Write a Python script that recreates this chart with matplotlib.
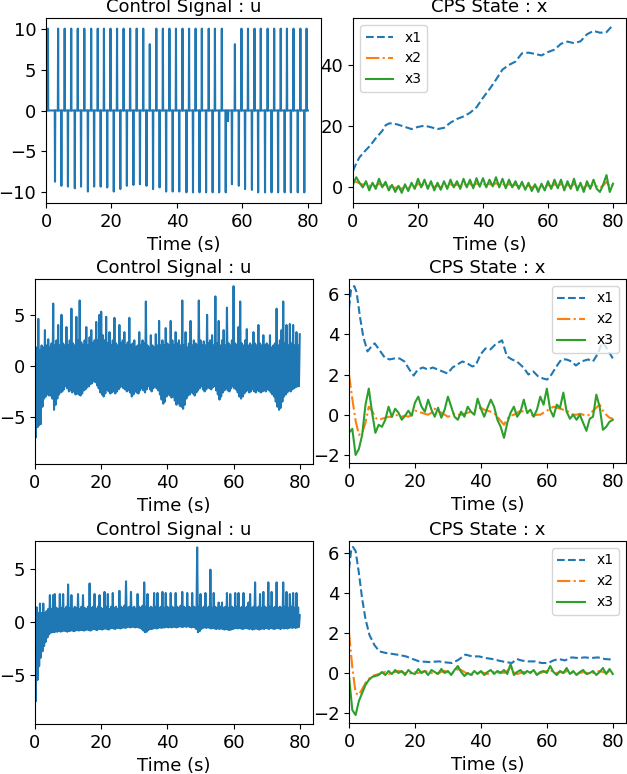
import numpy as np
import matplotlib
matplotlib.use('Agg')
import matplotlib.pyplot as plt

plt.rcParams['font.size'] = 13

# --- row 1: bang-bang control pulses (time, peak) ---
pos_t = [0.6, 3.7, 5.7, 7.7, 9.7, 11.7, 13.8, 15.8, 17.7, 19.7,
         21.7, 23.7, 25.7, 27.7, 29.7, 31.7, 33.7, 35.7, 37.7, 39.7,
         41.7, 43.7, 45.7, 47.6, 49.7, 51.6, 53.7, 57.7, 59.7, 61.7,
         63.7, 65.6, 67.7, 69.7, 71.7, 73.6, 75.6, 77.7, 79.6]
pos_v = [10, 10, 10, 10, 10, 10, 10, 10, 10, 10,
         10, 10, 10, 10, 10, 8.1, 10, 10, 10, 10,
         10, 10, 10, 10, 10, 10, 10, 8.1, 10, 10,
         10, 10, 10, 10, 10, 10, 10, 10, 10]
neg_t = [2.75, 4.7, 6.7, 8.8, 10.7, 12.8, 14.7, 16.7, 18.7, 20.7,
         22.7, 24.7, 26.7, 28.7, 30.7, 32.7, 34.7, 36.7, 38.7, 40.7,
         42.9, 44.9, 46.9, 48.9, 50.9, 52.9, 54.9, 55.6, 56.8, 58.9,
         60.8, 62.9, 64.8, 66.9, 68.9, 70.9, 72.9, 74.8, 76.9, 78.9]
neg_v = [-8.7, -9.2, -9.3, -9.5, -9.3, -9.9, -9.3, -9.3, -9.4, -9.9,
         -9.6, -9.2, -9.1, -9.0, -9.2, -9.6, -9.4, -9.9, -9.9, -9.9,
         -10, -10, -10, -10, -10, -10, -10, -1.3, -9.0, -9.2,
         -9.6, -9.7, -10, -10, -10, -10, -10, -10, -10, -10]

# row 1 states
s1_t = [0, 1, 2, 3, 4, 5, 6, 7, 8, 9, 10, 11, 12, 14, 16, 18, 20, 22, 24, 26,
        28, 30, 32, 34, 36, 38, 40, 42, 44, 46, 48, 50, 52, 54, 56, 58, 60, 62,
        64, 66, 68, 70, 72, 74, 76, 78, 80]
s1_x1 = [5.4, 7.8, 9.8, 11.0, 12.2, 13.3, 14.6, 16.0, 17.2, 18.4, 20.2, 20.8,
         20.9, 20.4, 19.7, 19.0, 19.7, 20.1, 19.6, 19.0, 19.4, 21.1, 22.3, 23.1,
         24.3, 26.1, 29.2, 32.0, 35.1, 38.4, 39.9, 41.0, 43.7, 43.9, 43.5, 43.0,
         44.1, 44.9, 46.8, 47.5, 47.0, 47.6, 49.9, 51.0, 50.4, 50.6, 52.9]
s1_x2 = [2.0, 1.8, 1.3, 0.9, 1.0, 0.5, 0.6, 0.4, 1.2, 0.6,
         0.8, 0.2, 0.4, -0.2, 0.2, -0.5, 0.2, -0.3, 0.5, 0.1,
         1.2, 0.6, 1.1, 0.4, 0.9, 0.1, 0.6, 0.0, 0.8, 0.2,
         1.0, 0.5, 0.9, 0.3, 1.2, 0.6, 1.1, 0.5, 1.3, 0.7,
         1.3, 0.6, 1.1, 0.7, 1.4, 0.7, 1.2, 0.5, 1.1, 0.5,
         0.9, 0.3, 0.8, 0.1, 0.6, -0.1, 0.4, -0.3, 0.4, -0.1,
         0.8, 0.3, 1.0, 0.4, 1.0, 0.1, 0.8, 0.2, 1.1, 0.1,
         0.6, -0.2, 0.7, 0.2, 1.0, 0.3, -0.2, 0.6, 1.8, 0.2,
         0.8]
s1_x3 = [1.0, 3.3, 1.5, 0.0, 2.0, -1.0, 1.5, -0.5, 2.8, 0.0,
         1.8, -1.0, 0.8, -1.5, 0.5, -1.8, 1.0, -1.2, 1.5, -0.5,
         2.8, 0.0, 2.5, -0.5, 2.0, -1.0, 1.5, -0.8, 2.0, -0.5,
         2.5, 0.0, 2.0, -0.5, 2.8, 0.0, 2.5, -0.3, 3.0, 0.2,
         3.0, 0.0, 2.5, 0.3, 3.3, 0.0, 2.8, -0.3, 2.5, 0.0,
         2.0, -0.5, 1.8, -0.8, 1.5, -1.2, 1.0, -1.5, 1.2, -1.0,
         2.0, -0.5, 2.5, -0.3, 2.5, -1.0, 2.0, -0.5, 2.8, -1.0,
         1.5, -1.5, 2.0, -0.5, 2.5, -0.5, -1.5, 1.0, 4.0, -1.5,
         1.2]

# --- row 2: noisy control, upper samples every 0.5 s, lower samples in between ---
u2_up = [1.2, 1.8, 4.6, 1.5, 2.0, 1.8, 3.5, 2.0, 2.6, 1.8,
         2.2, 6.1, 2.0, 2.5, 4.0, 2.0, 5.0, 2.2, 2.0, 3.8,
         2.0, 2.5, 5.6, 2.2, 2.0, 4.8, 2.5, 6.4, 2.3, 2.0,
         2.5, 3.8, 2.0, 2.8, 3.5, 2.2, 2.5, 4.3, 2.5, 5.0,
         5.3, 3.0, 2.5, 4.8, 2.2, 3.3, 2.0, 2.5, 4.7, 2.2,
         2.0, 4.0, 2.2, 2.5, 3.3, 2.0, 2.3, 4.7, 2.0, 2.2,
         2.5, 1.8, 2.0, 3.3, 2.0, 2.5, 2.2, 6.3, 2.0, 1.8,
         3.0, 2.0, 1.8, 3.1, 2.0, 4.4, 2.0, 2.5, 2.0, 3.7,
         2.2, 2.0, 4.4, 2.5, 2.0, 3.3, 2.2, 2.5, 2.0, 6.4,
         2.0, 3.3, 1.8, 2.2, 4.4, 2.0, 2.5, 2.2, 2.0, 6.4,
         2.5, 2.0, 2.4, 2.0, 5.0, 2.2, 2.5, 3.0, 2.0, 6.8,
         2.2, 4.4, 2.0, 2.5, 3.5, 2.0, 5.7, 2.2, 2.0, 2.5,
         7.8, 2.2, 2.0, 3.8, 6.3, 2.2, 2.0, 2.5, 3.6, 2.0,
         2.2, 2.0, 3.3, 2.2, 2.0, 4.0, 2.2, 2.0, 3.0, 2.0,
         2.2, 2.0, 3.0, 1.8, 2.0, 2.2, 5.6, 2.0, 2.5, 3.5,
         6.3, 2.2, 4.0, 2.0, 4.1, 2.2, 4.0, 2.0, 3.3, 2.0,
         3.1]
u2_lo = [-7.0, -6.0, -5.8, -5.7, -4.0, -3.2, -3.0, -2.8, -2.9, -2.9,
         -3.2, -4.3, -3.8, -3.2, -2.8, -2.6, -2.5, -2.3, -2.0, -2.2,
         -2.5, -2.4, -2.6, -2.5, -2.8, -2.7, -2.8, -2.9, -2.7, -2.4,
         -2.3, -2.1, -2.0, -1.8, -1.7, -1.5, -1.6, -1.9, -2.2, -2.6,
         -2.8, -3.0, -2.7, -2.3, -2.5, -2.7, -2.6, -2.5, -2.7, -2.5,
         -2.3, -2.1, -2.0, -2.2, -2.3, -2.5, -2.4, -2.6, -3.0, -2.8,
         -2.5, -2.6, -2.7, -2.4, -2.2, -2.4, -2.6, -2.3, -2.0, -2.3,
         -2.5, -2.2, -2.0, -2.2, -2.4, -2.8, -3.3, -3.7, -3.5, -3.0,
         -2.8, -2.9, -3.1, -3.0, -3.4, -3.8, -3.6, -3.9, -4.0, -4.2,
         -3.8, -3.2, -2.9, -2.8, -2.6, -2.7, -2.9, -2.6, -2.4, -2.2,
         -2.0, -2.3, -2.5, -2.3, -2.1, -2.2, -2.3, -2.1, -2.0, -2.4,
         -2.8, -3.3, -3.0, -2.6, -2.4, -2.2, -2.4, -2.5, -2.2, -2.0,
         -2.2, -2.3, -2.6, -3.0, -3.2, -3.0, -2.7, -2.5, -2.4, -2.6,
         -2.5, -2.3, -2.5, -2.6, -2.4, -2.5, -2.6, -2.5, -2.4, -2.5,
         -2.3, -2.4, -2.6, -2.8, -3.0, -3.5, -4.0, -4.3, -4.1, -3.5,
         -3.0, -2.8, -2.6, -2.4, -2.5, -2.3, -2.2, -2.1, -2.0, -2.0]

s2_t = [0, 0.6, 1.6, 2.3, 3.3, 4.3, 5.6, 6.6, 7.8, 9.3, 10.8, 12.3, 13.8, 15.3,
        16.8, 18.3, 19.6, 20.9, 22.4, 23.9, 25.4, 26.9, 28.4, 29.9, 31.4, 32.9,
        34.4, 35.9, 37.4, 38.4, 39.9, 41.4, 42.9, 44.4, 46.4, 47.9, 49.4, 50.9,
        52.9, 54.4, 55.9, 57.4, 58.9, 60.1, 61.4, 62.9, 64.4, 65.9, 67.5, 68.8,
        70.5, 72.5, 74.0, 75.5, 76.8, 78.0, 80.0]
s2_x1 = [5.3, 6.2, 6.4, 6.1, 4.9, 3.9, 3.15, 3.35, 3.55, 3.2, 2.85, 2.75, 2.8,
         2.8, 2.65, 2.25, 1.95, 2.25, 2.35, 2.25, 2.35, 2.25, 2.15, 2.05, 2.35,
         2.5, 2.65, 2.55, 2.4, 2.45, 3.0, 3.3, 3.25, 3.5, 3.7, 2.9, 2.75, 2.65,
         2.35, 2.0, 2.15, 1.9, 1.8, 1.75, 2.0, 2.4, 2.75, 2.75, 2.65, 2.45, 2.65,
         2.75, 2.65, 3.05, 3.6, 3.35, 2.8]
s2_x2 = [2.0, 0.8, -0.3, -1.0, -0.9, -0.4, 0.4, 0.2, -0.15, -0.25,
         -0.2, -0.15, -0.1, -0.1, 0.0, -0.05, -0.1, -0.05, -0.1, 0.0,
         0.2, 0.15, 0.1, 0.05, 0.0, 0.1, 0.3, 0.15, 0.1, 0.0,
         -0.1, -0.05, 0.05, 0.0, 0.0, 0.05, 0.1, 0.15, 0.2, 0.3,
         0.35, 0.25, 0.2, 0.15, 0.1, -0.1, -0.3, -0.5, -0.2, -0.05,
         0.0, 0.1, 0.2, 0.15, 0.1, 0.0, -0.05, 0.0, 0.0, 0.1,
         0.2, 0.3, 0.4, 0.35, 0.3, 0.25, 0.2, 0.1, 0.0, 0.0,
         0.05, 0.0, -0.05, 0.0, 0.2, 0.35, 0.5, 0.2, 0.0, -0.15,
         -0.2]
s2_x3 = [-0.9, -0.7, -2.0, -1.7, -1.0, 0.5, 1.3, 0.1, -0.9, -0.5,
         -0.6, -0.25, 0.4, -0.1, 0.3, 0.1, -0.25, -0.05, 0.2, -0.05,
         0.6, 0.9, 0.4, 0.15, 0.75, 0.25, -0.1, 0.35, -0.15, 0.25,
         0.9, 0.4, -0.1, -0.25, 0.15, -0.1, 0.4, 0.15, 0.0, 0.8,
         0.3, -0.1, 0.35, 0.75, 0.4, -0.25, -0.6, -1.15, -0.4, 0.1,
         0.4, -0.1, 0.15, 0.75, 0.1, 0.25, -0.1, 0.25, 0.9, 0.5,
         1.3, 0.25, -0.1, 0.5, 0.35, 1.1, 0.15, -0.2, 0.0, -0.25,
         0.0, -0.4, -0.8, -0.2, -0.1, 1.0, 0.4, -0.75, -0.6, -0.35,
         -0.25]

# --- row 3 ---
u3_up = [0.5, 1.35, 0.8, 1.7, 0.8, 1.7, 0.8, 1.0, 1.2, 2.5,
         1.2, 2.5, 2.6, 1.3, 1.2, 2.6, 1.3, 2.6, 1.2, 1.4,
         3.5, 1.3, 2.5, 1.2, 1.4, 1.3, 2.6, 1.2, 1.4, 2.5,
         1.3, 1.2, 1.4, 3.6, 1.3, 1.4, 2.6, 1.2, 1.4, 2.5,
         1.3, 1.2, 2.8, 1.4, 2.6, 1.2, 1.4, 2.7, 1.3, 1.4,
         1.2, 2.9, 1.4, 1.3, 1.5, 3.8, 1.3, 1.4, 2.8, 1.3,
         1.4, 1.2, 2.6, 1.4, 1.3, 1.5, 3.7, 1.4, 2.6, 1.3,
         1.4, 1.3, 2.7, 1.4, 2.7, 1.3, 1.4, 2.8, 1.3, 2.7,
         1.4, 1.3, 2.7, 1.4, 1.3, 2.7, 1.4, 1.3, 1.5, 2.8,
         1.4, 1.3, 2.7, 1.4, 1.3, 2.7, 1.4, 1.3, 7.0, 1.4,
         2.6, 1.3, 1.4, 2.7, 1.3, 1.4, 4.9, 1.3, 2.7, 1.4,
         1.3, 1.8, 1.4, 1.8, 1.3, 1.4, 2.7, 1.3, 2.6, 1.4,
         1.3, 2.7, 1.4, 2.7, 1.3, 1.4, 2.7, 1.3, 1.4, 1.8,
         2.6, 1.3, 1.4, 3.7, 1.3, 1.4, 2.6, 1.3, 2.8, 1.4,
         1.3, 3.7, 1.4, 2.8, 1.3, 1.4, 3.7, 1.3, 1.4, 1.3,
         3.7, 1.4, 2.8, 1.3, 2.6, 1.4, 2.7, 1.3, 2.7, 1.35,
         0.6]
u3_lo = [-7.5, -5.5, -4.2, -3.4, -2.8, -2.3, -1.9, -1.5, -1.2, -1.05,
         -1.0, -1.0, -0.95, -0.95, -0.9, -0.95, -0.9, -0.85, -0.9, -0.95,
         -0.9, -0.85, -0.85, -0.9, -0.85, -0.8, -0.85, -0.8, -0.8, -0.85,
         -0.8, -0.75, -0.8, -0.85, -0.75, -0.7, -0.75, -0.8, -0.7, -0.7,
         -0.75, -0.7, -0.65, -0.7, -0.75, -0.65, -0.6, -0.65, -0.7, -0.6,
         -0.6, -0.65, -0.6, -0.55, -0.6, -0.55, -0.5, -0.55, -0.5, -0.5,
         -0.55, -0.5, -0.55, -0.6, -0.7, -0.85, -1.0, -0.95, -0.8, -0.7,
         -0.7, -0.65, -0.6, -0.65, -0.6, -0.55, -0.6, -0.55, -0.55, -0.5,
         -0.55, -0.5, -0.55, -0.5, -0.5, -0.55, -0.5, -0.45, -0.5, -0.5,
         -0.45, -0.5, -0.45, -0.5, -0.55, -0.5, -0.55, -0.7, -1.0, -0.9,
         -0.7, -0.6, -0.55, -0.6, -0.55, -0.6, -0.65, -0.6, -0.65, -0.7,
         -0.65, -0.7, -0.65, -0.7, -0.75, -0.7, -0.75, -0.8, -0.75, -0.7,
         -0.65, -0.6, -0.65, -0.6, -0.65, -0.7, -0.65, -0.6, -0.65, -0.7,
         -0.65, -0.75, -0.7, -0.65, -0.7, -0.75, -0.7, -0.65, -0.7, -0.6,
         -0.65, -0.7, -0.6, -0.65, -0.7, -0.65, -0.6, -0.65, -0.7, -0.6,
         -0.65, -0.6, -0.65, -0.6, -0.55, -0.6, -0.55, -0.6, -0.55, -0.5]

s3_t = [0, 0.7, 1.2, 2.0, 3.0, 4.0, 5.0, 6.2, 7.7, 9.2, 11.2, 13.3, 15.3, 17.3,
        19.3, 21.3, 24.3, 27.3, 29.3, 31.3, 33.3, 35.3, 37.3, 39.4, 41.4, 43.4,
        45.4, 47.4, 49.4, 50.9, 52.4, 54.4, 56.4, 58.4, 60.4, 61.9, 63.5, 65.5,
        67.5, 69.5, 71.5, 73.5, 75.5, 77.5, 80.0]
s3_x1 = [5.2, 6.2, 6.3, 6.1, 5.0, 3.7, 2.7, 1.9, 1.4, 1.08, 1.0, 0.95, 0.9, 0.83,
         0.7, 0.58, 0.55, 0.58, 0.53, 0.5, 0.67, 0.92, 0.83, 0.83, 0.75, 0.7,
         0.62, 0.55, 0.5, 0.7, 0.62, 0.58, 0.58, 0.5, 0.5, 0.62, 0.7, 0.63, 0.78,
         0.75, 0.78, 0.75, 0.78, 0.7, 0.67]
s3_x2 = [2.0, 0.3, -1.0, -1.1, -0.8, -0.5, -0.3, -0.15, -0.1, -0.05,
         0.0, 0.05, -0.05, 0.0, 0.05, 0.1, 0.05, 0.0, -0.05, 0.0,
         0.05, 0.0, 0.05, 0.1, 0.05, 0.0, -0.05, 0.0, 0.05, 0.1,
         0.05, 0.0, 0.05, 0.2, 0.15, 0.05, -0.05, -0.1, -0.05, 0.0,
         0.05, 0.0, -0.05, 0.0, 0.05, 0.0, 0.05, 0.0, 0.1, 0.3,
         0.05, -0.05, 0.0, 0.05, 0.0, 0.05, 0.0, -0.05, 0.0, 0.05,
         0.1, 0.15, 0.05, 0.0, 0.05, 0.0, 0.1, 0.05, 0.0, -0.05,
         0.0, 0.05, 0.0, -0.05, 0.0, 0.05, 0.1, 0.05, 0.0, 0.1,
         0.0]
s3_x3 = [-0.15, -1.85, -2.1, -1.4, -1.0, -0.6, -0.35, -0.2, -0.15, -0.1,
         0.05, -0.1, 0.1, -0.05, 0.15, 0.0, 0.1, -0.1, 0.15, 0.0,
         -0.05, 0.2, 0.0, 0.1, -0.1, 0.15, 0.05, -0.05, 0.2, 0.0,
         0.1, -0.1, 0.15, 0.35, 0.05, -0.15, 0.0, -0.1, 0.1, -0.05,
         0.1, -0.1, 0.05, 0.15, -0.05, 0.1, 0.0, 0.15, -0.05, 0.45,
         -0.1, 0.05, 0.15, -0.05, 0.1, 0.0, 0.15, -0.1, 0.05, 0.1,
         0.0, 0.35, 0.05, -0.1, 0.1, 0.0, 0.25, -0.05, 0.1, -0.1,
         0.05, 0.15, -0.05, 0.0, 0.1, -0.1, 0.05, 0.25, -0.05, 0.2,
         -0.05]

t_sec = np.arange(0, 81)             # 1 s grid for the states
t_up = np.arange(0, 80.01, 0.5)      # upper samples of noisy u
t_lo = np.arange(0.25, 80, 0.5)      # lower samples of noisy u


def pulse_train(pt, pv, nt, nv):
    """ Build a zero baseline signal with narrow pulses at the event times. """
    ev = sorted(zip(pt + nt, pv + nv))
    t, u = [0.0], [0.0]
    for te, v in ev:
        t += [te - 0.08, te, te + 0.08]
        u += [0.0, v, 0.0]
    t.append(80.0)
    u.append(0.0)
    return t, u


def zigzag(up, lo):
    """ Alternate between upper and lower samples of the noisy signal. """
    t = np.empty(len(up) + len(lo))
    y = np.empty(len(up) + len(lo))
    t[0::2], t[1::2] = t_up, t_lo
    y[0::2], y[1::2] = up, lo
    return t, y


def style_u(ax, ylim):
    ax.set_title('Control Signal : u', fontsize=13, pad=4)
    ax.set_xlabel('Time (s)', fontsize=13)
    ax.set_xlim(0, 84)
    ax.set_ylim(*ylim)
    ax.set_xticks([0, 20, 40, 60, 80])


def state_panel(ax, tx1, x1, x2, x3, ylim, loc):
    ax.plot(tx1, x1, '--', label='x1')
    ax.plot(t_sec, x2, '-.', label='x2')
    ax.plot(t_sec, x3, '-', label='x3')
    ax.set_title('CPS State : x', fontsize=13, pad=4)
    ax.set_xlabel('Time (s)', fontsize=13)
    ax.set_xlim(0, 84)
    ax.set_ylim(*ylim)
    ax.set_xticks([0, 20, 40, 60, 80])
    ax.legend(loc=loc, fontsize=10)


W, H = 627, 774
fig = plt.figure(figsize=(W / 100, H / 100), dpi=100)


def box(x0, x1, y0, y1):
    return [x0 / W, 1 - y1 / H, (x1 - x0) / W, (y1 - y0) / H]


ax1 = fig.add_axes(box(46, 321, 18, 203))
t, u = pulse_train(pos_t, pos_v, neg_t, neg_v)
ax1.plot(t, u)
style_u(ax1, (-11.3, 11.3))

ax2 = fig.add_axes(box(353, 626, 18, 203))
state_panel(ax2, s1_t, s1_x1, s1_x2, s1_x3, (-5.1, 55.2), 'upper left')

ax3 = fig.add_axes(box(35, 313, 279, 464))
ax3.plot(*zigzag(u2_up, u2_lo))
style_u(ax3, (-9.6, 8.5))

ax4 = fig.add_axes(box(349, 626, 279, 463))
state_panel(ax4, s2_t, s2_x1, s2_x2, s2_x3, (-2.4, 6.75), 'upper right')

ax5 = fig.add_axes(box(35, 313, 541, 724))
ax5.plot(*zigzag(u3_up, u3_lo))
style_u(ax5, (-9.65, 7.6))

ax6 = fig.add_axes(box(349, 626, 541, 723))
state_panel(ax6, s3_t, s3_x1, s3_x2, s3_x3, (-2.5, 6.6), 'upper right')

fig.savefig('out.png', dpi=100)
